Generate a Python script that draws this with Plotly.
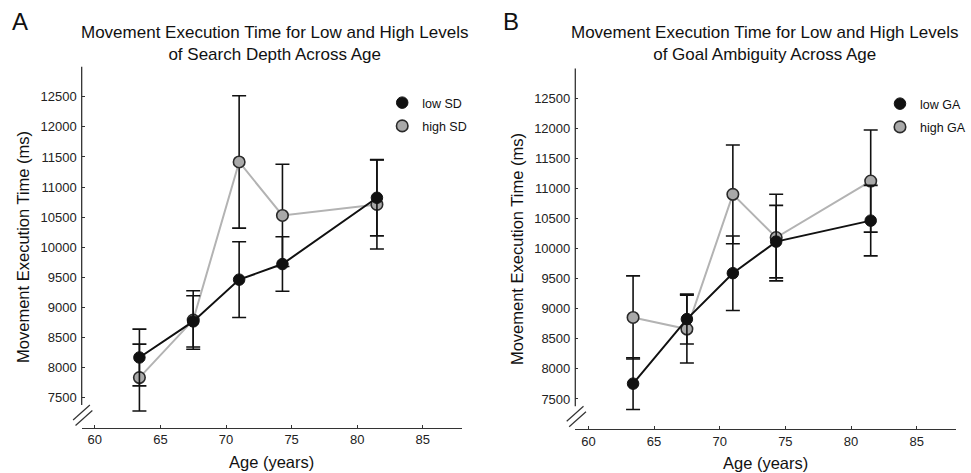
import plotly.graph_objects as go

# ---------------- data ----------------
age = [63.4, 67.5, 71.0, 74.3, 81.5]

low_sd = [8167, 8767, 9461, 9720, 10822]
low_sd_err = [472, 425, 630, 453, 634]
high_sd = [7833, 8789, 11417, 10528, 10711]
high_sd_err = [556, 486, 1100, 850, 740]

low_ga = [7755, 8829, 9593, 10119, 10468]
low_ga_err = [430, 415, 620, 603, 587]
high_ga = [8857, 8663, 10905, 10186, 11127]
high_ga_err = [692, 565, 822, 720, 850]

x_ticks = [60, 65, 70, 75, 80, 85]
y_ticks = [7500, 8000, 8500, 9000, 9500, 10000, 10500, 11000, 11500, 12000, 12500]

titles = ["Movement Execution Time for Low and High Levels<br>of Search Depth Across Age",
          "Movement Execution Time for Low and High Levels<br>of Goal Ambiguity Across Age"]
panel_labels = ["A", "B"]
legend_names = [("low SD", "high SD"), ("low GA", "high GA")]

# ---------------- layout geometry (pixels) ----------------
W, H = 971, 473
FONT = "Liberation Sans, Arial, sans-serif"
panels = [
    dict(x0=82.7, x1=468.0, yt=66.7, yb=427.7),
    dict(x0=582.5, x1=968.0, yt=68.5, yb=429.0),
]

def px_x(p):
    return p / W

def px_y(p):
    return 1 - p / H

BLACK = "#111111"
GRAY_LINE = "#b3b3b3"
GRAY_FILL = "#a9a9a9"

LOW_MARKER = dict(size=11.5, color=BLACK, line=dict(color=BLACK, width=1))
HIGH_MARKER = dict(size=11.5, color=GRAY_FILL, line=dict(color="#2a2a2a", width=1.6))

fig = go.Figure()

series = [
    (low_sd, low_sd_err, high_sd, high_sd_err),
    (low_ga, low_ga_err, high_ga, high_ga_err),
]

for i, (lo, lo_e, hi, hi_e) in enumerate(series):
    xa = "x" if i == 0 else "x2"
    ya = "y" if i == 0 else "y2"
    leg = "legend" if i == 0 else "legend2"
    fig.add_trace(go.Scatter(
        x=age, y=hi, name=legend_names[i][1], xaxis=xa, yaxis=ya, showlegend=False,
        mode="lines+markers",
        line=dict(color=GRAY_LINE, width=2),
        marker=HIGH_MARKER,
        error_y=dict(type="data", array=hi_e, visible=True, color=BLACK, thickness=1.6, width=7),
    ))
    fig.add_trace(go.Scatter(
        x=age, y=lo, name=legend_names[i][0], xaxis=xa, yaxis=ya, showlegend=False,
        mode="lines+markers",
        line=dict(color=BLACK, width=2),
        marker=LOW_MARKER,
        error_y=dict(type="data", array=lo_e, visible=True, color=BLACK, thickness=1.6, width=7),
    ))
    # legend entries (marker only, as in the reference)
    fig.add_trace(go.Scatter(
        x=[None], y=[None], name=legend_names[i][0], xaxis=xa, yaxis=ya, legend=leg,
        legendgroup=f"lo{i}", legendrank=1, mode="markers", marker=LOW_MARKER,
    ))
    fig.add_trace(go.Scatter(
        x=[None], y=[None], name=legend_names[i][1], xaxis=xa, yaxis=ya, legend=leg,
        legendgroup=f"hi{i}", legendrank=2, mode="markers", marker=HIGH_MARKER,
    ))

axis_common = dict(
    showgrid=False, zeroline=False, ticks="inside", ticklen=3, tickwidth=1,
    tickcolor="#333333", tickfont=dict(size=13, color="#222222", family=FONT),
)

shapes = []
annotations = []
for i, p in enumerate(panels):
    sfx = "" if i == 0 else "2"
    xdom = [px_x(p["x0"]), px_x(p["x1"])]
    ydom = [px_y(p["yb"]), px_y(p["yt"])]
    fig.layout["xaxis" + sfx] = dict(
        axis_common, domain=xdom, anchor="y" + sfx, range=[59, 88], tickvals=x_ticks,
        showline=True, linecolor="#333333", linewidth=1.3,
    )
    fig.layout["yaxis" + sfx] = dict(
        axis_common, domain=ydom, anchor="x" + sfx, range=[7000, 13000], tickvals=y_ticks,
        tickformat="d", ticklabelstandoff=4, showline=False,
    )
    # y axis line (broken near the bottom)
    shapes.append(dict(type="line", xref=f"x{sfx} domain", yref=f"y{sfx} domain",
                       x0=0, x1=0, y0=0.063, y1=1, line=dict(color="#333333", width=1.3)))
    # break marks
    dx = p["x0"] - 82.7
    dy = p["yb"] - 427.7
    for (ax, ay, bx, by) in [(74, 420, 91, 405), (76.5, 425.5, 93.5, 410.5)]:
        shapes.append(dict(type="line", xref="paper", yref="paper",
                           x0=px_x(ax + dx), y0=px_y(ay + dy), x1=px_x(bx + dx), y1=px_y(by + dy),
                           line=dict(color="#333333", width=1.2)))
    cx = (p["x0"] + p["x1"]) / 2
    # title
    annotations.append(dict(text=titles[i], xref="paper", yref="paper",
                            x=px_x(277.5 if i == 0 else 774), y=px_y(43.5),
                            xanchor="center", yanchor="middle", showarrow=False,
                            font=dict(size=17, color="#111111", family=FONT)))
    # panel label
    annotations.append(dict(text=panel_labels[i], xref="paper", yref="paper",
                            x=px_x(20 if i == 0 else 517.5), y=px_y(21.5),
                            xanchor="center", yanchor="middle", showarrow=False,
                            font=dict(size=24, color="#111111", family=FONT)))
    # axis titles
    annotations.append(dict(text="Age (years)", xref="paper", yref="paper",
                            x=px_x(cx), y=px_y(462 + dy), xanchor="center", yanchor="middle",
                            showarrow=False, font=dict(size=16.5, color="#111111", family=FONT)))
    annotations.append(dict(text="Movement Execution Time (ms)", xref="paper", yref="paper",
                            x=px_x(23 + dx), y=px_y((p["yt"] + p["yb"]) / 2), textangle=-90,
                            xanchor="center", yanchor="middle",
                            showarrow=False, font=dict(size=16.5, color="#111111", family=FONT)))

legend_common = dict(
    xanchor="left", yanchor="top", bgcolor="rgba(0,0,0,0)", borderwidth=0,
    font=dict(size=12.5, color="#111111", family=FONT), traceorder="grouped",
    tracegroupgap=4, itemclick=False, itemdoubleclick=False,
)
fig.update_layout(
    width=W, height=H,
    margin=dict(l=0, r=0, t=0, b=0),
    paper_bgcolor="white", plot_bgcolor="white",
    font=dict(family=FONT, color="#111111"),
    showlegend=True,
    legend=dict(legend_common, x=px_x(387), y=px_y(88)),
    legend2=dict(legend_common, x=px_x(891), y=px_y(89)),
    shapes=shapes,
    annotations=annotations,
)

fig.write_html("out.html", config={"displayModeBar": False},
               post_script="document.body.style.margin='0px';document.body.style.padding='0px';")
